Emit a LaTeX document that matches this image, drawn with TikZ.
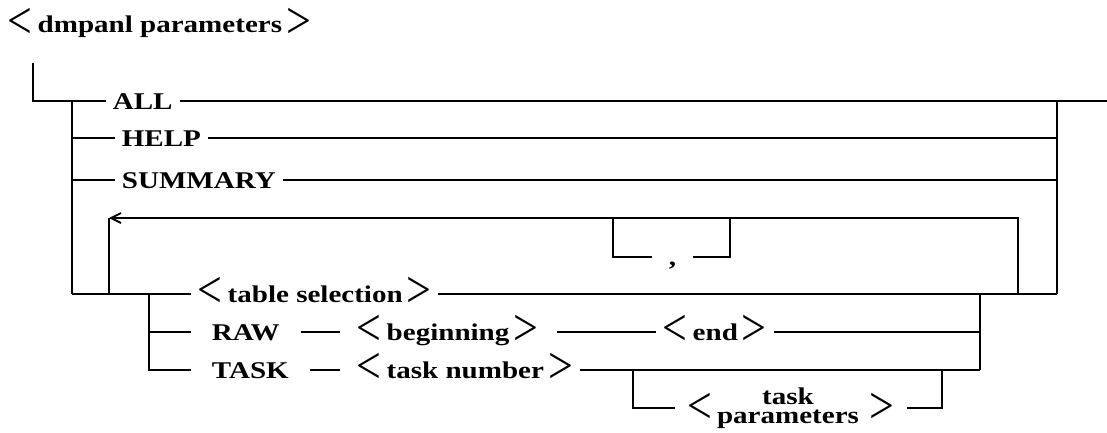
\documentclass[tikz,border=0pt]{standalone}
\usepackage{graphicx}
\usepackage{fontspec}
\setmainfont{Liberation Serif}[FakeStretch=1.21]
\newfontfamily\angfamily{Liberation Serif}
\usetikzlibrary{arrows.meta}

% tall thin angle brackets round a syntax item
\newcommand\angglyph[1]{\scalebox{1}[1.2]{\angfamily\mdseries\fontsize{44}{44}\selectfont#1}}
\newcommand\langbr{\raisebox{-5.5pt}{\angglyph{<}}\hspace{5pt}}
\newcommand\rangbr{\hspace{4pt}\raisebox{-5.5pt}{\angglyph{>}}}

\tikzset{
  rail/.style={line width=1.8pt},
  word/.style={anchor=west, inner xsep=6pt, inner ysep=0pt,
    text height=16pt, text depth=0pt, font=\fontsize{24}{28}\selectfont\bfseries},
  angle/.style={inner xsep=12pt, inner ysep=0pt},
}

\begin{document}
\begin{tikzpicture}[x=1pt, y=-1pt, rail]
  \useasboundingbox (0,0) rectangle (1107,432);

  % -- Title --
  \node[word] (title) at (1,24.5) {\langbr dmpanl parameters\rangbr};

  % -- Junctions --
  \coordinate (start) at (33,63);
  \coordinate (top) at (72,101);
  \coordinate (exit) at (1107,101);
  \coordinate (rtop) at (1057,101);
  \coordinate (rbot) at (1057,294);
  \coordinate (lbot) at (72,294);
  \coordinate (loopL) at (109,294);
  \coordinate (loopT) at (109,218);
  \coordinate (loopR) at (1018,294);
  \coordinate (cmL) at (613,218);
  \coordinate (cmR) at (730,218);
  \coordinate (sub) at (149,294);
  \coordinate (subR) at (980,294);
  \coordinate (subB) at (980,370);
  \coordinate (parL) at (633,370);
  \coordinate (parR) at (942,370);

  % -- Keywords and items --
  \node[word] (all) at (106,101) {ALL};
  \node[word] (help) at (115,138) {HELP};
  \node[word] (summary) at (115,180) {SUMMARY};
  \node[word, inner xsep=16pt] (comma) at (652,257) {,};
  \node[word] (tabsel) at (191,294) {\langbr table selection\rangbr};
  \node[word, inner xsep=20pt] (raw) at (191,332) {RAW};
  \node[word] (begin) at (350,332) {\langbr beginning\rangbr};
  \node[word] (end) at (656,332) {\langbr end\rangbr};
  \node[word, inner xsep=20pt] (task) at (191,370) {TASK};
  \node[word] (tasknum) at (350,370) {\langbr task number\rangbr};
  \node[angle] (tparL) at (700,408) {\angglyph{<}};
  \node[font=\fontsize{24}{19}\selectfont\bfseries, align=center, inner sep=0pt] (tpar) at (788,408) {task\\parameters};
  \node[angle] (tparR) at (882,408) {\angglyph{>}};

  % -- Main line and first choices --
  \draw (start) |- (all.west);
  \draw (all.east) -- (exit);
  \draw (top) -- (lbot);
  \draw (top |- help.west) -- (help.west);
  \draw (help.east) -- (rtop |- help.east);
  \draw (top |- summary.west) -- (summary.west);
  \draw (summary.east) -- (rtop |- summary.east);
  \draw (rtop) -- (rbot);

  % -- Repeated table selection --
  \draw (lbot) -- (tabsel.west);
  \draw (tabsel.east) -- (rbot);
  \draw[-{Straight Barb[length=10pt,width=10pt]}] (loopR) |- (loopT);
  \draw (loopT) -- (loopL);
  \draw (cmL) |- (comma.west);
  \draw (comma.east) -| (cmR);

  % -- RAW and TASK --
  \draw (sub) |- (task.west);
  \draw (sub |- raw.west) -- (raw.west);
  \draw[shorten >=10pt] (raw.east) -- (begin.west);
  \draw[shorten <=12pt] (begin.east) -- (end.west);
  \draw (end.east) -- (subR |- end.east);
  \draw[shorten >=10pt] (task.east) -- (tasknum.west);
  \draw (tasknum.east) -- (subB);
  \draw (subR) -- (subB);
  \draw (parL) |- (tparL.west);
  \draw (tparR.east) -| (parR);

\end{tikzpicture}
\end{document}
